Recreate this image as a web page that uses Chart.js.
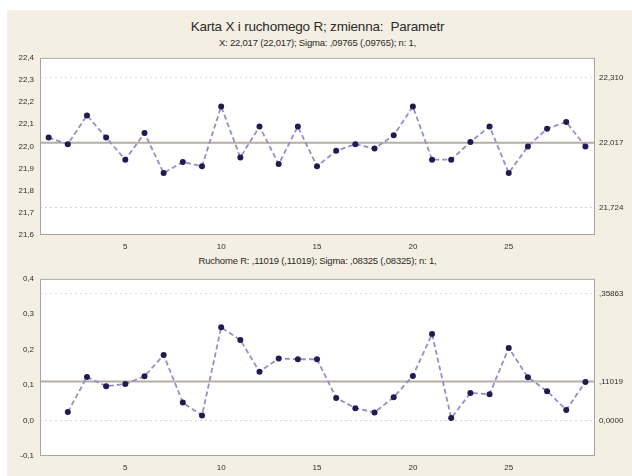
<!DOCTYPE html>
<html>
<head>
<meta charset="utf-8">
<script src="https://cdn.jsdelivr.net/npm/chart.js@4/dist/chart.umd.min.js"></script>
<style>
body{margin:0;width:632px;height:476px;background:#fff;position:relative;overflow:hidden;font-family:"Liberation Sans",Arial,sans-serif;}
#bg{position:absolute;left:7px;top:10px;right:0;bottom:0;background:#f4efe2;}
canvas{position:absolute;left:0;}
.t{position:absolute;left:0;width:635px;text-align:center;color:#2a2a2a;white-space:pre;}
</style>
</head>
<body>
<div id="bg"></div>
<div class="t" style="top:19px;font-size:13.5px;letter-spacing:-0.2px;">Karta X i ruchomego R; zmienna:  Parametr</div>
<div class="t" style="top:37px;font-size:9.5px;letter-spacing:-0.2px;">X: 22,017 (22,017); Sigma: ,09765 (,09765); n: 1,</div>
<div class="t" style="top:255px;font-size:9.5px;letter-spacing:-0.2px;">Ruchome R: ,11019 (,11019); Sigma: ,08325 (,08325); n: 1,</div>
<canvas id="xChart" width="632" height="210" style="top:47px"></canvas>
<canvas id="rChart" width="632" height="208" style="top:268px"></canvas>
<script>

// DATA
const samples = [1,2,3,4,5,6,7,8,9,10,11,12,13,14,15,16,17,18,19,20,21,22,23,24,25,26,27,28,29];

const xValues = [22.04,22.01,22.14,22.04,21.94,22.06,21.88,21.93,21.91,22.18,21.95,22.09,21.92,22.09,21.91,
21.98,22.01,21.99,22.05,22.18,21.94,21.94,22.02,22.09,21.88,22.00,22.08,22.11,22.00];

const rValues = [null,0.024,0.123,0.097,0.103,0.125,0.185,0.051,0.014,0.263,0.227,0.138,0.175,0.173,0.173,
0.064,0.035,0.023,0.066,0.126,0.244,0.007,0.078,0.074,0.205,0.122,0.083,0.030,0.109];

// lcl, center, ucl
const xControl = [21.724,22.017,22.310];
const xControlLabels = ["21,724","22,017","22,310"];
const rControl = [0,0.11019,0.35863];
const rControlLabels = ["0,0000",",11019",",35863"];

const xTicks = [5,10,15,20,25];

Chart.defaults.font.family = "'Liberation Sans', Arial, sans-serif";
Chart.defaults.font.size = 8;
Chart.defaults.color = "#2e2e2e";

// plot frame + control lines
const frame = {
id: "frame",
beforeDraw(chart){
const a = chart.chartArea, c = chart.ctx;
c.save();
c.fillStyle = "#ffffff";
c.fillRect(a.left,a.top,a.right-a.left,a.bottom-a.top);
c.restore();
},
beforeDatasetsDraw(chart){
const o = chart.options.plugins.frame;
const a = chart.chartArea, c = chart.ctx, y = chart.scales.y;
c.save();
o.control.forEach((v,i)=>{
const py = y.getPixelForValue(v);
c.beginPath();
if(i===1){
c.strokeStyle = "#b3aea6";
c.lineWidth = 2;
c.setLineDash([]);
} else {
c.strokeStyle = i===0 ? "#dccfcb" : "#e0dad4";
c.lineWidth = 1;
c.setLineDash([2,3]);
}
c.moveTo(a.left,py);
c.lineTo(a.right,py);
c.stroke();
});
c.restore();
},
afterDraw(chart){
const a = chart.chartArea, c = chart.ctx;
c.save();
c.strokeStyle = "#a9a59b";
c.lineWidth = 1;
c.strokeRect(a.left+0.5,a.top+0.5,a.right-a.left-1,a.bottom-a.top-1);
c.restore();
}
};

function comma(v,d){
return v.toFixed(d).replace(".",",");
}

function makeChart(id, values, control, controlLabels, yMin, yMax, padTop, xHeight){

return new Chart(document.getElementById(id), {

type: "line",

data: {
labels: samples,
datasets: [{
data: values,
borderColor: "#9a8cc4",
borderWidth: 1.8,
borderDash: [5,3],
pointRadius: 3,
pointBackgroundColor: "#1f1c52",
pointBorderColor: "#1f1c52",
pointBorderWidth: 0,
tension: 0,
spanGaps: false
}]
},

options: {
responsive: false,
animation: false,
layout: { padding: { top: padTop, left: 0, right: 0, bottom: 0 } },
plugins: {
legend: { display: false },
tooltip: { enabled: false },
frame: { control: control }
},
scales: {
x: {
type: "linear",
min: 0.55,
max: 29.5,
afterBuildTicks: a => { a.ticks = xTicks.map(v=>({value:v})); },
afterFit: s => { s.height = xHeight; },
grid: { display: false, drawTicks: false },
border: { display: false },
ticks: { padding: 7, maxRotation: 0 }
},
y: {
position: "left",
min: yMin,
max: yMax,
afterFit: s => { s.width = 40; },
grid: { display: false, drawTicks: false },
border: { display: false },
ticks: { stepSize: 0.1, padding: 6, callback: v => comma(v,1) }
},
y2: {
position: "right",
min: yMin,
max: yMax,
afterBuildTicks: a => { a.ticks = control.map(v=>({value:v})); },
afterFit: s => { s.width = 37; },
grid: { display: false, drawTicks: false },
border: { display: false },
ticks: { padding: 4, callback: (v,i) => controlLabels[i] }
}
}
},

plugins: [frame]

});

}

// line chart with x = sample index
function toPoints(values){
return values.map((v,i)=>({x: samples[i], y: v}));
}

makeChart("xChart", toPoints(xValues), xControl, xControlLabels, 21.6, 22.4, 10, 22);
makeChart("rChart", toPoints(rValues), rControl, rControlLabels, -0.1, 0.4, 9, 20);

</script>
</body>
</html>
